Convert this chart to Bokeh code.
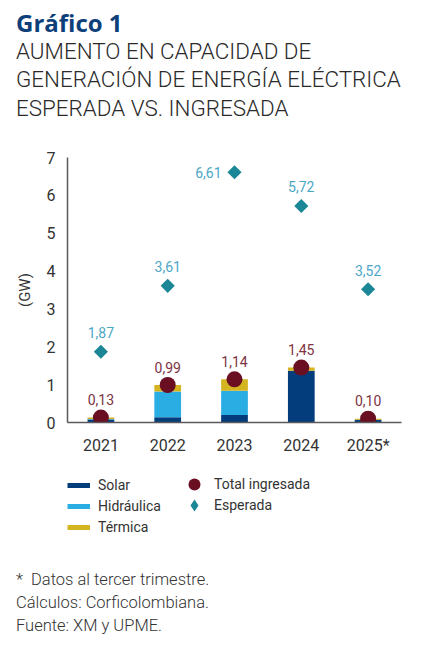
from bokeh.plotting import figure
from bokeh.layouts import column
from bokeh.models import (ColumnDataSource, Legend, LegendItem, Range1d, Div,
                          FactorRange, FixedTicker, CDSView, IndexFilter)
from bokeh.embed import file_html
from bokeh.resources import INLINE
from bokeh.core.properties import value
import math

# ---------------- data ----------------
years = ["2021", "2022", "2023", "2024", "2025*"]
solar = [0.08, 0.14, 0.20, 1.37, 0.07]
hidraulica = [0.01, 0.68, 0.64, 0.00, 0.00]
termica = [0.04, 0.17, 0.30, 0.08, 0.03]
total_ingresada = [0.13, 0.99, 1.14, 1.45, 0.10]
esperada = [1.87, 3.61, 6.61, 5.72, 3.52]
ingresada_labels = ["0,13", "0,99", "1,14", "1,45", "0,10"]
esperada_labels = ["1,87", "3,61", "6,61", "5,72", "3,52"]
y_ticks = [0, 1, 2, 3, 4, 5, 6, 7]

title = "Gráfico 1"
subtitle = ["AUMENTO EN CAPACIDAD DE",
            "GENERACIÓN DE ENERGÍA ELÉCTRICA",
            "ESPERADA VS. INGRESADA"]
notes = ["*&nbsp; Datos al tercer trimestre.",
         "Cálculos: Corficolombiana.",
         "Fuente: XM y UPME."]

# ---------------- style ----------------
C_SOLAR = "#033d7b"
C_HIDRO = "#2aade2"
C_TERM = "#d5b421"
C_TOTAL = "#6a0e22"
C_ESP = "#1b8695"
C_ESP_LAB = "#4ca7c6"
C_TOT_LAB = "#7d3343"
C_TEXT = "#333333"
FONT = "Roboto"

W = 420
H_TOP, H_MAIN, H_LEG, H_NOTES = 120, 345, 80, 94

# ---------------- title block ----------------
title_html = (
    '<div style="padding:9px 0 0 16px;margin:0;">'
    '<div style="font-family:\'Open Sans\';font-weight:700;font-size:24px;'
    'line-height:28px;color:#0d3f7a;white-space:nowrap;">' + title + '</div>'
    '<div style="font-family:Roboto;font-weight:300;font-size:22.4px;'
    'line-height:28.3px;color:#2a2a2a;white-space:nowrap;">'
    + "<br>".join(subtitle) + '</div></div>')
d_top = Div(text=title_html, width=W, height=H_TOP, margin=0)

# ---------------- chart ----------------
src = ColumnDataSource(dict(year=years, solar=solar, hidraulica=hidraulica,
                            termica=termica, total=total_ingresada,
                            esperada=esperada, tot_lab=ingresada_labels,
                            esp_lab=esperada_labels))

p = figure(x_range=FactorRange(*years, range_padding=0), y_range=Range1d(0, 7),
           width=W, height=H_MAIN, output_backend="svg", toolbar_location=None,
           min_border_left=67, min_border_right=19, min_border_top=37,
           min_border_bottom=43)
p.outline_line_color = None
p.xgrid.visible = False
p.ygrid.visible = False

for ax in (p.xaxis, p.yaxis):
    ax.axis_line_color = "#5a5a5a"
    ax.axis_line_width = 1.5
    ax.major_tick_line_color = None
    ax.minor_tick_line_color = None
    ax.major_label_text_font = FONT
    ax.major_label_text_font_size = "16px"
    ax.major_label_text_color = C_TEXT
p.yaxis.ticker = FixedTicker(ticks=y_ticks)
p.yaxis.major_label_standoff = 6
p.xaxis.major_label_standoff = 7
p.yaxis.axis_label = "(GW)"
p.yaxis.axis_label_text_font = FONT
p.yaxis.axis_label_text_font_style = "normal"
p.yaxis.axis_label_text_font_size = "15px"
p.yaxis.axis_label_text_color = C_TEXT
p.yaxis.axis_label_standoff = 10

p.vbar_stack(["solar", "hidraulica", "termica"], x="year", width=0.4,
             color=[C_SOLAR, C_HIDRO, C_TERM], line_color=None, source=src)

p.scatter(x="year", y="total", source=src, marker="circle", size=16,
          fill_color=C_TOTAL, line_color=None)
p.scatter(x="year", y="esperada", source=src, marker="square", size=10,
          angle=math.pi / 4, fill_color=C_ESP, line_color=None)

common = dict(text_font=value(FONT), text_font_size="14px", text_baseline="middle")
p.text(x="year", y="total", text="tot_lab", source=src, y_offset=-18,
       text_align="center", text_color=C_TOT_LAB, **common)
p.text(x="year", y="esperada", text="esp_lab", source=src, y_offset=-19,
       text_align="center", text_color=C_ESP_LAB,
       view=CDSView(filter=IndexFilter([0, 1, 3, 4])), **common)
p.text(x="year", y="esperada", text="esp_lab", source=src, x_offset=-13,
       text_align="right", text_color=C_ESP_LAB,
       view=CDSView(filter=IndexFilter([2])), **common)

# ---------------- legend ----------------
p_leg = figure(width=W, height=H_LEG, x_range=Range1d(0, 1), y_range=Range1d(0, 1),
               x_axis_type=None, y_axis_type=None, output_backend="svg",
               toolbar_location=None, min_border=0)
p_leg.outline_line_color = None
p_leg.grid.visible = False
nan = float("nan")
bar_keys = [p_leg.line(x=[nan], y=[nan], line_color=c, line_width=5)
            for c in (C_SOLAR, C_HIDRO, C_TERM)]
tot_key = p_leg.scatter(x=[nan], y=[nan], marker="circle", fill_color=C_TOTAL,
                        line_color=None)
esp_key = p_leg.scatter(x=[nan], y=[nan], marker="diamond", fill_color=C_ESP,
                        line_color=None)

leg_style = dict(border_line_color=None, background_fill_alpha=0, padding=0,
                 margin=0, label_text_font=FONT, label_text_font_size="14px",
                 label_text_color=C_TEXT, label_height=16)
leg1 = Legend(items=[LegendItem(label="Solar", renderers=[bar_keys[0]]),
                     LegendItem(label="Hidráulica", renderers=[bar_keys[1]]),
                     LegendItem(label="Térmica", renderers=[bar_keys[2]])],
              location=(0, 10), glyph_width=23, glyph_height=16, spacing=5,
              label_standoff=8, **leg_style)
leg2 = Legend(items=[LegendItem(label="Total ingresada", renderers=[tot_key])],
              location=(112, 45), glyph_width=30, glyph_height=32,
              label_standoff=5, **leg_style)
leg3 = Legend(items=[LegendItem(label="Esperada", renderers=[esp_key])],
              location=(112, 24), glyph_width=30, glyph_height=32,
              label_standoff=5, **leg_style)
for lg in (leg1, leg2, leg3):
    p_leg.add_layout(lg, "center")

# ---------------- notes ----------------
notes_html = ('<div style="padding:23px 0 0 16px;margin:0;font-family:Roboto;'
              'font-weight:300;font-size:16.5px;line-height:23px;color:#333333;'
              'white-space:nowrap;">' + "<br>".join(notes) + '</div>')
d_notes = Div(text=notes_html, width=W, height=H_NOTES, margin=0)

layout = column(d_top, p, p_leg, d_notes, spacing=0)
open("out.html", "w").write(file_html(layout, INLINE))
